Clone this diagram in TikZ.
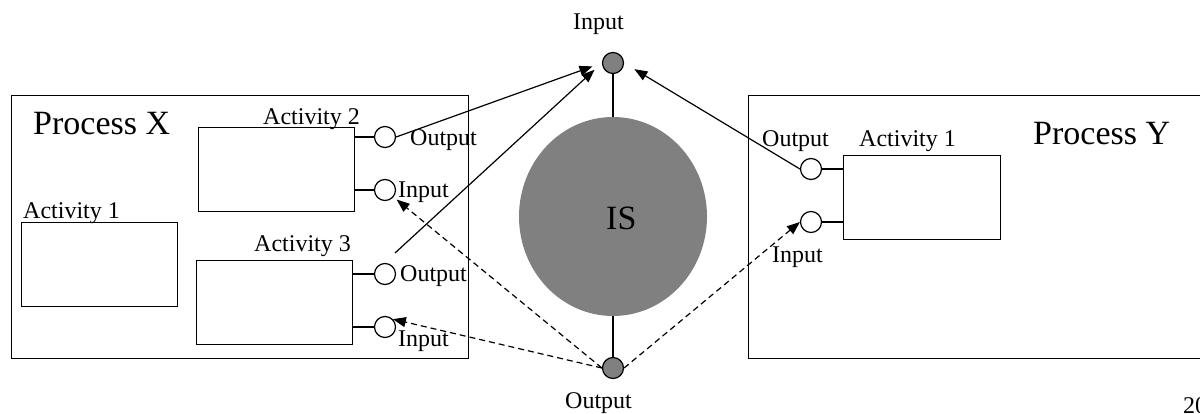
\documentclass[tikz,border=0pt]{standalone}
\usepackage{fontspec}
\setmainfont{Liberation Serif}
\usetikzlibrary{arrows.meta,shapes.geometric}
\definecolor{isgray}{RGB}{128,128,128}
\begin{document}
\begin{tikzpicture}[x=1pt,y=-1pt,
 box/.style={draw, line width=1.4pt, inner sep=0pt, anchor=north west},
 port/.style={circle, draw, line width=1.2pt, minimum size=21pt, inner sep=0pt, fill=white},
 gport/.style={port, fill=isgray},
 lbl/.style={anchor=base west, inner sep=0pt, font=\fontsize{24}{28}\selectfont},
 big/.style={anchor=base west, inner sep=0pt, font=\fontsize{34}{40}\selectfont},
 conn/.style={line width=1.2pt},
 arr/.style={conn, -{Triangle[length=13pt,width=10pt]}},
 darr/.style={arr, dash pattern=on 6pt off 4pt}]
\useasboundingbox (0,0) rectangle (1200,414);
\clip (0,0) rectangle (1200,414);

% boxes
\node[box, minimum width=457pt, minimum height=263pt] (px) at (11,95) {};
\node[box, minimum width=156pt, minimum height=84pt] (a2) at (198,127) {};
\node[box, minimum width=156pt, minimum height=84pt] (a1) at (21,222) {};
\node[box, minimum width=156pt, minimum height=84pt] (a3) at (196,260) {};
\node[box, minimum width=470pt, minimum height=263pt] (py) at (748,95) {};
\node[box, minimum width=157pt, minimum height=84pt] (ya1) at (843,155) {};

% information system
\node[ellipse, fill=isgray, minimum width=188pt, minimum height=199pt, inner sep=0pt] (is) at (613,216.5) {};
\node[gport] (isin) at (613,63) {};
\node[gport] (isout) at (613,368) {};
\draw[conn] (isin.south) -- (is.north);
\draw[conn] (is.south) -- (isout.north);

% ports
\node[port] (a2o) at (385,137) {};
\node[port] (a2i) at (385,190) {};
\node[port] (a3o) at (385,274) {};
\node[port] (a3i) at (385,327) {};
\node[port] (yo) at (811,169) {};
\node[port] (yi) at (811,222) {};
\draw[conn] (a2o -| a2.east) -- (a2o.west);
\draw[conn] (a2i -| a2.east) -- (a2i.west);
\draw[conn] (a3o -| a3.east) -- (a3o.west);
\draw[conn] (a3i -| a3.east) -- (a3i.west);
\draw[conn] (yo.east) -- (yo -| ya1.west);
\draw[conn] (yi.east) -- (yi -| ya1.west);

% arrows
\coordinate (a3from) at (395,253);
\draw[arr, shorten >=10pt] (a2o.east) -- (isin.west);
\draw[arr, shorten >=10pt] (a3from) -- (isin.west);
\draw[arr, shorten >=12pt] (yo.west) -- (isin.east);
\draw[darr, shorten >=4pt] (isout.west) -- (a2i);
\draw[darr] (isout.west) -- (a3i.north east);
\draw[darr] (isout.east) -- (yi.west);

% labels
\node[big] (pxl) at (33,135) {Process X};
\node[big] (pyl) at (1033,145) {Process Y};
\node[big] (isl) at (606,230) {IS};
\node[lbl] (a2l) at (263,125) {Activity 2};
\node[lbl] (a1l) at (23,219) {Activity 1};
\node[lbl] (a3l) at (254,252) {Activity 3};
\node[lbl] (a2ol) at (410,146) {Output};
\node[lbl] (a2il) at (398,198) {Input};
\node[lbl] (a3ol) at (400,282) {Output};
\node[lbl] (a3il) at (398,346) {Input};
\node[lbl] (inl) at (573,30) {Input};
\node[lbl] (outl) at (565,408) {Output};
\node[lbl] (yol) at (762,147) {Output};
\node[lbl] (ya1l) at (859,147) {Activity 1};
\node[lbl] (yil) at (772,262) {Input};
\node[lbl] (pg) at (1183,413) {20};
\end{tikzpicture}
\end{document}
